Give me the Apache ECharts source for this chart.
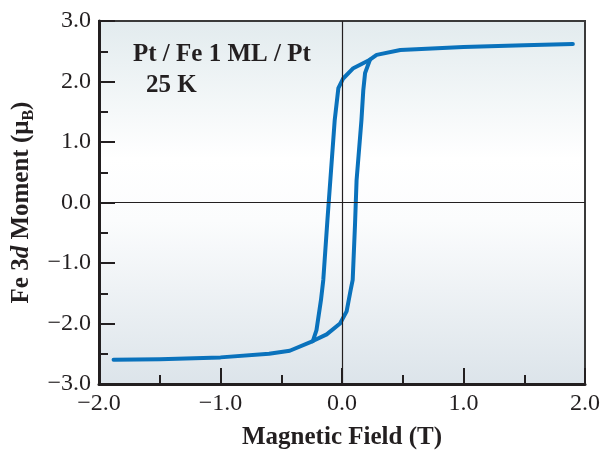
<!DOCTYPE html>
<html lang="en">
<head>
  <meta charset="UTF-8">
  <title>Fe 3d Moment</title>
  <script src="https://cdn.jsdelivr.net/npm/echarts@6/dist/echarts.min.js"></script>
  <style>
    html, body { margin: 0; padding: 0; background: #fff; }
  </style>
</head>
<body>
<div id="chart" style="width: 602px;height: 450px;"></div>
<script>
  // 降场分支 (从 +2 T 扫到 -2 T)
  var fieldDown = [1.90, 1.50, 1.00, 0.48, 0.285, 0.23, 0.093, 0.01, -0.03, -0.06, -0.12, -0.154, -0.173, -0.21, -0.24, -0.43, -0.60, -1.00, -1.50, -1.88];
  var momentDown = [2.62, 2.60, 2.57, 2.52, 2.44, 2.36, 2.22, 2.05, 1.89, 1.36, -0.29, -1.28, -1.61, -2.11, -2.29, -2.45, -2.50, -2.56, -2.59, -2.60];
  // 升场分支 (两个交汇点之间)
  var fieldUp = [-0.24, -0.126, -0.016, 0.038, 0.071, 0.088, 0.107, 0.12, 0.16, 0.175, 0.19, 0.23];
  var momentUp = [-2.29, -2.18, -2.00, -1.80, -1.45, -1.28, -0.37, 0.37, 1.36, 1.85, 2.14, 2.36];
  var xTicks = [-2, -1, 0, 1, 2];
  var yTicks = [-3, -2, -1, 0, 1, 2, 3];

  var ink = '#231f20';
  var serif = 'Liberation Serif';
  var blue = '#0a72bc';

  function pairs(xs, ys) {
    return xs.map(function (x, i) { return [x, ys[i]]; });
  }
  function fmt(v) {
    return v.toFixed(1).replace('-', '\u2212');
  }

  var myChart = echarts.init(document.getElementById('chart'));
  var option = {
    animation: false,
    grid: {
      left: 99, right: 17, top: 21, bottom: 66,
      outerBoundsMode: 'none',
      show: true,
      borderColor: '#3a3a3a',
      borderWidth: 2,
      backgroundColor: {
        type: 'linear', x: 0, y: 0, x2: 0, y2: 1,
        colorStops: [
          {offset: 0, color: '#e2ebee'},
          {offset: 0.38, color: '#ffffff'},
          {offset: 0.55, color: '#fbfcfd'},
          {offset: 1, color: '#dce4ea'}
        ]
      }
    },
    graphic: [
      {type: 'text', left: 133, top: 42, style: {text: 'Pt / Fe 1 ML / Pt', font: 'bold 25px "Liberation Serif"', fill: ink}},
      {type: 'text', left: 146, top: 73, style: {text: '25 K', font: 'bold 25px "Liberation Serif"', fill: ink}}
    ],
    xAxis: {
      type: 'value',
      min: xTicks[0], max: xTicks[xTicks.length - 1], interval: 1,
      axisLine: {onZero: false, lineStyle: {color: ink, width: 3}},
      axisTick: {inside: true, length: 16, lineStyle: {color: ink, width: 2}},
      minorTick: {show: true, splitNumber: 2, length: 9, lineStyle: {color: ink, width: 2}},
      splitLine: {show: false},
      axisLabel: {color: ink, fontFamily: serif, fontSize: 24, margin: 8, formatter: fmt},
      name: 'Magnetic Field (T)',
      nameLocation: 'middle',
      nameGap: 41,
      nameTextStyle: {color: ink, fontFamily: serif, fontSize: 25, fontWeight: 'bold'}
    },
    yAxis: {
      type: 'value',
      min: yTicks[0], max: yTicks[yTicks.length - 1], interval: 1,
      axisLine: {onZero: false, lineStyle: {color: ink, width: 3}},
      axisTick: {inside: true, length: 16, lineStyle: {color: ink, width: 2}},
      minorTick: {show: true, splitNumber: 2, length: 9, lineStyle: {color: ink, width: 2}},
      splitLine: {show: false},
      axisLabel: {color: ink, fontFamily: serif, fontSize: 24, margin: 8, formatter: fmt},
      name: '{b|Fe 3}{i|d}{b| Moment (\u03bc}{s|B}{b|)}',
      nameLocation: 'middle',
      nameRotate: 90,
      nameGap: 61,
      nameTextStyle: {
        color: ink, fontFamily: serif, fontSize: 25, fontWeight: 'bold',
        rich: {
          b: {color: ink, fontFamily: serif, fontSize: 25, fontWeight: 'bold'},
          i: {color: ink, fontFamily: serif, fontSize: 25, fontWeight: 'bold', fontStyle: 'italic'},
          s: {color: ink, fontFamily: serif, fontSize: 16, fontWeight: 'bold', padding: [14, 0, 0, 0]}
        }
      }
    },
    series: [
      {
        type: 'line',
        data: [],
        silent: true,
        z: 1,
        markLine: {
          silent: true,
          symbol: 'none',
          label: {show: false},
          lineStyle: {color: ink, width: 1.2, type: 'solid'},
          data: [{xAxis: 0}, {yAxis: 0}]
        }
      },
      {
        name: 'down',
        type: 'line',
        data: pairs(fieldDown, momentDown),
        showSymbol: false,
        z: 3,
        lineStyle: {color: blue, width: 4, cap: 'round', join: 'round'}
      },
      {
        name: 'up',
        type: 'line',
        data: pairs(fieldUp, momentUp),
        showSymbol: false,
        z: 3,
        lineStyle: {color: blue, width: 4, cap: 'round', join: 'round'}
      }
    ]
  };
  option && myChart.setOption(option);
</script>
</body>
</html>
